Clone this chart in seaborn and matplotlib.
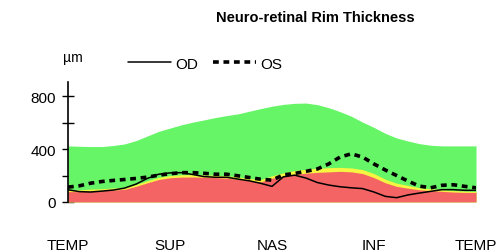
import numpy as np
import pandas as pd
import matplotlib
matplotlib.use("Agg")
import matplotlib.pyplot as plt
import seaborn as sns

# -------------------------------
# DATA
# -------------------------------
angle = list(range(0, 361, 10))
sectors = ["TEMP", "SUP", "NAS", "INF", "TEMP"]
sector_pos = [0, 90, 180, 270, 360]

normal_top = [425, 422, 420, 420, 428, 440, 465, 500, 535, 560, 585, 605, 622, 640, 655, 668,
              688, 708, 726, 740, 748, 750, 738, 715, 685, 650, 605, 565, 520, 485, 462, 442,
              430, 425, 425, 425, 425]
border_top = [90, 92, 97, 100, 106, 112, 132, 160, 187, 200, 206, 207, 205, 203, 198, 190,
              178, 170, 198, 220, 238, 248, 255, 260, 262, 258, 245, 215, 172, 142, 125, 108,
              100, 92, 86, 82, 80]
outside_top = [78, 78, 82, 86, 90, 96, 118, 145, 170, 183, 188, 189, 187, 185, 180, 172,
               160, 152, 180, 198, 210, 218, 224, 228, 232, 228, 215, 184, 145, 118, 104, 92,
               86, 80, 75, 72, 72]
od = [92, 78, 75, 82, 90, 105, 135, 178, 210, 220, 222, 208, 192, 187, 187, 173,
      160, 141, 118, 190, 203, 181, 147, 128, 115, 107, 101, 75, 42, 32, 53, 67,
      80, 93, 93, 88, 88]
os_ = [112, 122, 142, 155, 163, 170, 178, 188, 203, 214, 222, 222, 217, 210, 210, 198,
       185, 172, 165, 205, 216, 232, 250, 288, 340, 365, 340, 288, 242, 200, 158, 120,
       107, 126, 130, 118, 107]

df = pd.DataFrame({"angle": angle, "OD": od, "OS": os_})

# -------------------------------
# STYLE
# -------------------------------
sns.set_style("ticks", {"axes.edgecolor": "black", "text.color": "black",
                        "xtick.color": "black", "ytick.color": "black"})
plt.rcParams["font.family"] = ["Liberation Sans", "DejaVu Sans"]

fig = plt.figure(figsize=(5.0, 2.53), dpi=100)
ax = fig.add_axes([0.136, 0.198, 0.816, 0.474])

# normative bands
ax.fill_between(angle, 0, normal_top, color="#66F566", lw=0)
ax.fill_between(angle, 0, border_top, color="#F5F542", lw=0)
ax.fill_between(angle, 0, outside_top, color="#F56464", lw=0)

# eyes
sns.lineplot(data=df, x="angle", y="OD", ax=ax, color="black", lw=1.1, label="OD")
sns.lineplot(data=df, x="angle", y="OS", ax=ax, color="black", lw=2.6,
             label="OS").lines[-1].set_dashes((1.6, 1.3))

ax.set_xlim(0, 360)
ax.set_ylim(0, 910)
ax.set_xlabel("")
ax.set_ylabel("")

ax.set_yticks([0, 400, 800])
ax.set_yticks([200, 600], minor=True)
ax.tick_params(axis="y", which="both", direction="inout", length=9, width=1,
               labelsize=11, pad=4, colors="black")
ax.set_xticks(sector_pos)
ax.set_xticklabels(sectors)
ax.tick_params(axis="x", length=0, labelsize=11, pad=26, colors="black")

for s in ["top", "right", "bottom"]:
    ax.spines[s].set_visible(False)
ax.spines["left"].set_linewidth(1.2)
ax.spines["left"].set_color("black")

ax.get_legend().remove()
handles, labels = ax.get_legend_handles_labels()
fig.legend(handles, labels, loc="center left", bbox_to_anchor=(0.228, 0.745),
           ncol=2, frameon=False, fontsize=11, handlelength=2.8,
           handletextpad=0.3, columnspacing=1.0)

fig.text(0.125, 0.77, "µm", fontsize=10, ha="left", va="center", color="black")
fig.text(0.63, 0.93, "Neuro-retinal Rim Thickness", fontsize=10.5,
         fontweight="bold", ha="center", va="center", color="black")

fig.savefig("out.png", dpi=100)
